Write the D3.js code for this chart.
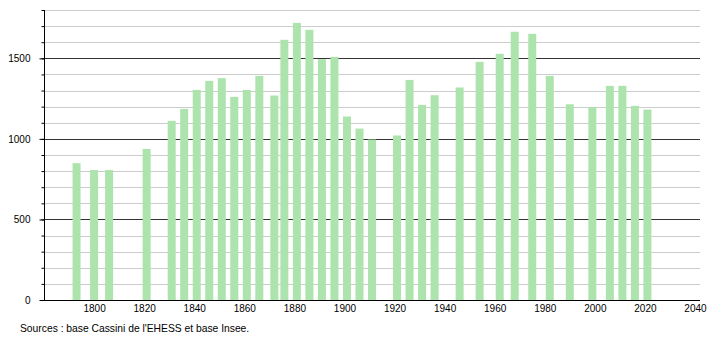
<!DOCTYPE html>
<html>
<head>
<meta charset="utf-8">
<script src="https://cdn.jsdelivr.net/npm/d3@7"></script>
<style>
  body { margin: 0; background: #fff; }
  text { font-family: "Liberation Sans", Arial, sans-serif; font-size: 10px; fill: #000; }
</style>
</head>
<body>
<script>
const years = [1793, 1800, 1806, 1821, 1831, 1836, 1841, 1846, 1851, 1856, 1861, 1866, 1872, 1876,
  1881, 1886, 1891, 1896, 1901, 1906, 1911, 1921, 1926, 1931, 1936, 1946, 1954, 1962, 1968,
  1975, 1982, 1990, 1999, 2006, 2011, 2016, 2021];
const population = [849, 807, 807, 938, 1112, 1186, 1304, 1360, 1377, 1261, 1304, 1391, 1269, 1615,
  1720, 1677, 1495, 1509, 1139, 1064, 996, 1021, 1366, 1211, 1271, 1319, 1478, 1528, 1665,
  1652, 1391, 1215, 1197, 1329, 1329, 1205, 1182];
const xTicks = [1800, 1820, 1840, 1860, 1880, 1900, 1920, 1940, 1960, 1980, 2000, 2020, 2040];
const yTicks = [0, 500, 1000, 1500];
const source = "Sources : base Cassini de l'EHESS et base Insee.";

const svg = d3.select('body').append('svg')
    .attr('width', 710)
    .attr('height', 340);

let x = d3.scaleLinear().domain([1780, 2042]).range([44, 700]);
let y = d3.scaleLinear().domain([0, 1800]).range([300, 10]);

// grid: every 100, darker every 500
let grid = d3.range(100, 1801, 100);
svg.append("g").selectAll("line")
    .data(grid)
    .join("line")
    .attr("x1", 44).attr("x2", 700)
    .attr("y1", d => Math.round(y(d)) + 0.5)
    .attr("y2", d => Math.round(y(d)) + 0.5)
    .attr("stroke", d => d % 500 === 0 ? "#333" : "#ccc")
    .attr("stroke-width", 1);

// bars
svg.append("g").selectAll("rect")
    .data(years)
    .join("rect")
    .attr("x", (d) => x(d) - 4)
    .attr("width", 8)
    .attr("y", (d, i) => y(population[i]))
    .attr("height", (d, i) => y(0) - y(population[i]))
    .attr("fill", "#ade4ad");

// y axis with minor ticks
svg.append("g")
    .attr("transform", "translate(44.5,0)")
    .call(d3.axisLeft(y).tickValues(grid.concat([0])).tickSize(3).tickFormat(""))
    .call(g => g.select(".domain").remove())
    .call(g => g.selectAll("line").attr("stroke", "#000"));

svg.append("g")
    .attr("transform", "translate(44.5,0)")
    .call(d3.axisLeft(y).tickValues(yTicks).tickSize(5).tickPadding(9).tickFormat(d3.format("d")))
    .call(g => g.select(".domain").attr("d", "M0," + y(1800) + "V" + y(0)).attr("stroke", "#000"))
    .call(g => g.selectAll("text").style("font-size", "10px").attr("font-family", null));

// x axis
svg.append("g")
    .attr("transform", "translate(0,300.5)")
    .call(d3.axisBottom(x).tickValues(xTicks).tickFormat(d3.format("d")).tickSize(0).tickPadding(4))
    .call(g => g.select(".domain").attr("d", "M44,0H700").attr("stroke", "#000"))
    .call(g => g.selectAll("text").style("font-size", "10px").attr("font-family", null));

svg.append("text")
    .attr("x", 20)
    .attr("y", 332)
    .style("font-size", "10.3px")
    .text(source);
</script>
</body>
</html>
